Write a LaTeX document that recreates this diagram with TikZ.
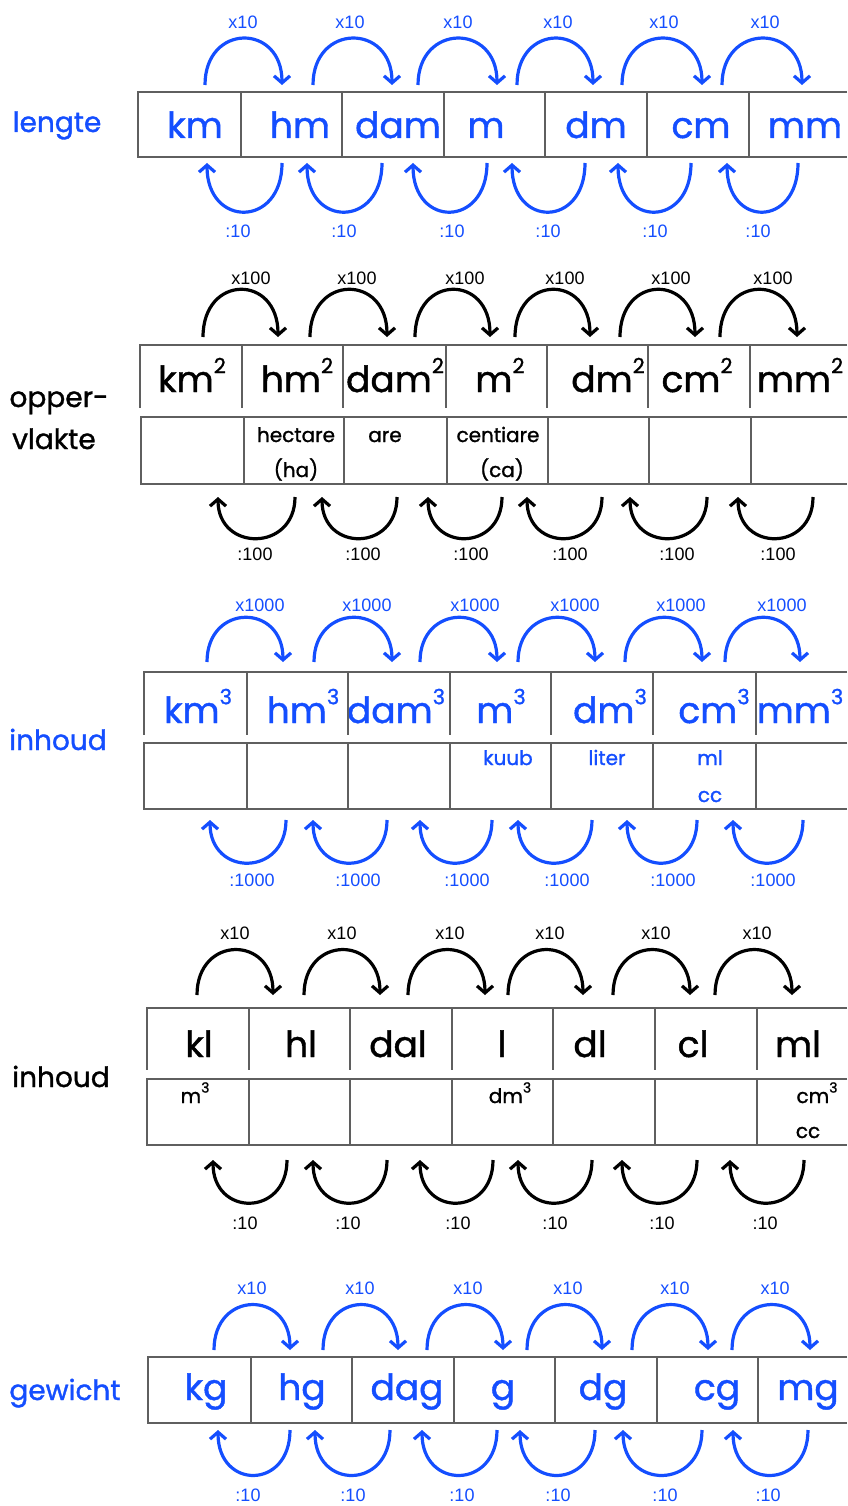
\documentclass[tikz,border=0pt]{standalone}
\usepackage{fontspec}
\setmainfont{Poppins}
\newfontfamily\thick[FakeBold=1.2]{Poppins}
\newfontfamily\labfont{Liberation Sans}
\usetikzlibrary{arrows.meta}
\definecolor{ublue}{RGB}{20,78,255}
\definecolor{gridc}{RGB}{95,95,95}
\newcommand\expo[1]{\raisebox{0.95ex}{\fontsize{21}{21}\selectfont #1}}
\tikzset{
  unit/.style={anchor=base, inner sep=0pt, font=\thick\fontsize{36}{40}\selectfont},
  side/.style={anchor=base, inner sep=0pt, font=\thick\fontsize{28}{30}\selectfont},
  sub/.style={anchor=base, inner sep=0pt, font=\thick\fontsize{20}{22}\selectfont},
  fac/.style={anchor=center, inner sep=0pt, font=\labfont\fontsize{18}{20}\selectfont},
  arc/.style={line width=3.2pt, -{Straight Barb[length=7pt,width=16pt]}},
  tbl/.style={draw=gridc, line width=1.3pt},
}
\begin{document}
\begin{tikzpicture}[x=1pt,y=-1pt]
\useasboundingbox (0,0) rectangle (847,1506);

% ---------------- Section 1: lengte ----------------
\begin{scope}[color=ublue]
  \node[side] (len) at (57,132) {lengte};
  \foreach \x/\t [count=\i] in {195/km,300/hm,398/dam,486/m,596/dm,701/cm,805/mm}
    \node[unit] (a\i) at (\x,138) {\t};
  \foreach \a/\b/\l [count=\i] in {205/282/243,313/392/350,418/497/458,517/593/558,622/702/664,722/802/765} {
    \coordinate (at\i s) at (\a,85); \coordinate (at\i e) at (\b,85);
    \draw[arc] (at\i s) .. controls +(0,-62) and +(0,-62) .. (at\i e);
    \node[fac] (at\i l) at (\l,22) {x10};
  }
  \foreach \b/\a/\l [count=\i] in {282/207/238,382/307/344,487/413/452,585/512/548,691/618/655,798/727/758} {
    \coordinate (ab\i s) at (\b,163); \coordinate (ab\i e) at (\a,163);
    \draw[arc] (ab\i s) .. controls +(0,65) and +(0,65) .. (ab\i e);
    \node[fac] (ab\i l) at (\l,231) {:10};
  }
\end{scope}
\draw[tbl] (847,92) -- (138,92) -- (138,157) -- (847,157);
\foreach \x in {241,342,444,545,647,749} \draw[tbl] (\x,92) -- (\x,157);

% ---------------- Section 2: oppervlakte ----------------
\node[side] (opp1) at (59,407) {opper-};
\node[side] (opp2) at (54,449) {vlakte};
\foreach \x/\t [count=\i] in {192/km,297/hm,395/dam,500/m,608/dm,697/cm,800/mm}
  \node[unit] (b\i) at (\x,392) {\t\expo{2}};
\node[sub] (bha) at (296,442) {hectare};
\node[sub] (bha2) at (296,477) {(ha)};
\node[sub] (bare) at (385,442) {are};
\node[sub] (bca) at (498,442) {centiare};
\node[sub] (bca2) at (502,477) {(ca)};
\foreach \a/\b/\l [count=\i] in {203/278/251,310/387/357,415/490/465,515/590/565,620/695/671,720/797/773} {
  \coordinate (bt\i s) at (\a,337); \coordinate (bt\i e) at (\b,337);
  \draw[arc] (bt\i s) .. controls +(0,-63) and +(0,-63) .. (bt\i e);
  \node[fac] (bt\i l) at (\l,278) {x100};
}
\foreach \b/\a/\l [count=\i] in {295/218/255,397/322/363,502/428/471,602/527/570,707/630/677,813/738/778} {
  \coordinate (bb\i s) at (\b,497); \coordinate (bb\i e) at (\a,497);
  \draw[arc] (bb\i s) .. controls +(0,55) and +(0,55) .. (bb\i e);
  \node[fac] (bb\i l) at (\l,554) {:100};
}
\draw[tbl] (847,345) -- (140,345) -- (140,408);
\foreach \x in {242,343,446,547,648,750} \draw[tbl] (\x,345) -- (\x,408);
\draw[tbl] (847,417) -- (141,417) -- (141,484) -- (847,484);
\foreach \x in {244,344,447,548,649,751} \draw[tbl] (\x,417) -- (\x,484);

% ---------------- Section 3: inhoud (m3) ----------------
\begin{scope}[color=ublue]
  \node[side] (inh1) at (58,750) {inhoud};
  \foreach \x/\t [count=\i] in {198/km,303/hm,396/dam,501/m,610/dm,714/cm,800/mm}
    \node[unit] (c\i) at (\x,723) {\t\expo{3}};
  \node[sub] (ckuub) at (508,765) {kuub};
  \node[sub] (cliter) at (607,765) {liter};
  \node[sub] (cml) at (710,765) {ml};
  \node[sub] (ccc) at (710,802) {cc};
  \foreach \a/\b/\l [count=\i] in {207/283/260,314/392/367,420/497/475,518/595/575,625/702/681,725/800/782} {
    \coordinate (ct\i s) at (\a,662); \coordinate (ct\i e) at (\b,662);
    \draw[arc] (ct\i s) .. controls +(0,-59) and +(0,-59) .. (ct\i e);
    \node[fac] (ct\i l) at (\l,605) {x1000};
  }
  \foreach \b/\a/\l [count=\i] in {286/210/252,387/313/358,492/420/467,592/518/567,697/627/673,803/733/773} {
    \coordinate (cb\i s) at (\b,820); \coordinate (cb\i e) at (\a,820);
    \draw[arc] (cb\i s) .. controls +(0,57) and +(0,57) .. (cb\i e);
    \node[fac] (cb\i l) at (\l,880) {:1000};
  }
\end{scope}
\draw[tbl] (847,672) -- (144,672) -- (144,735);
\foreach \x in {247,348,450,551,653,756} \draw[tbl] (\x,672) -- (\x,735);
\draw[tbl] (847,743) -- (144,743) -- (144,809) -- (847,809);
\foreach \x in {247,348,450,551,653,756} \draw[tbl] (\x,743) -- (\x,809);

% ---------------- Section 4: inhoud (liter) ----------------
\node[side] (inh2) at (61,1087) {inhoud};
\foreach \x/\t [count=\i] in {199/kl,301/hl,398/dal,502/l,590/dl,693/cl,798/ml}
  \node[unit] (d\i) at (\x,1057) {\t};
\node[sub] (dm3) at (195,1103) {m\expo{\fontsize{14}{14}\selectfont 3}};
\node[sub] (ddm3) at (510,1103) {dm\expo{\fontsize{14}{14}\selectfont 3}};
\node[sub] (dcm3) at (817,1103) {cm\expo{\fontsize{14}{14}\selectfont 3}};
\node[sub] (dcc) at (808,1138) {cc};
\foreach \a/\b/\l [count=\i] in {197/273/235,304/380/342,408/485/450,508/583/550,613/690/656,715/792/757} {
  \coordinate (dt\i s) at (\a,995); \coordinate (dt\i e) at (\b,995);
  \draw[arc] (dt\i s) .. controls +(0,-60) and +(0,-60) .. (dt\i e);
  \node[fac] (dt\i l) at (\l,933) {x10};
}
\foreach \b/\a/\l [count=\i] in {287/213/245,387/313/348,493/420/458,592/518/555,697/622/662,804/730/765} {
  \coordinate (db\i s) at (\b,1160); \coordinate (db\i e) at (\a,1160);
  \draw[arc] (db\i s) .. controls +(0,57) and +(0,57) .. (db\i e);
  \node[fac] (db\i l) at (\l,1223) {:10};
}
\draw[tbl] (847,1008) -- (147,1008) -- (147,1070);
\foreach \x in {249,350,452,553,655,757} \draw[tbl] (\x,1008) -- (\x,1070);
\draw[tbl] (847,1079) -- (147,1079) -- (147,1145) -- (847,1145);
\foreach \x in {249,350,452,553,655,757} \draw[tbl] (\x,1079) -- (\x,1145);

% ---------------- Section 5: gewicht ----------------
\begin{scope}[color=ublue]
  \node[side] (gew) at (65,1400) {gewicht};
  \foreach \x/\t [count=\i] in {206/kg,302/hg,407/dag,503/g,603/dg,717/cg,808/mg}
    \node[unit] (e\i) at (\x,1400) {\t};
  \foreach \a/\b/\l [count=\i] in {214/290/252,323/398/360,427/503/468,527/602/568,632/708/675,732/810/775} {
    \coordinate (et\i s) at (\a,1350); \coordinate (et\i e) at (\b,1350);
    \draw[arc] (et\i s) .. controls +(0,-60) and +(0,-60) .. (et\i e);
    \node[fac] (et\i l) at (\l,1288) {x10};
  }
  \foreach \b/\a/\l [count=\i] in {290/218/248,390/315/353,497/422/462,595/520/558,702/623/665,808/733/768} {
    \coordinate (eb\i s) at (\b,1430); \coordinate (eb\i e) at (\a,1430);
    \draw[arc] (eb\i s) .. controls +(0,60) and +(0,60) .. (eb\i e);
    \node[fac] (eb\i l) at (\l,1495) {:10};
  }
\end{scope}
\draw[tbl] (847,1357) -- (148,1357) -- (148,1423) -- (847,1423);
\foreach \x in {251,352,454,555,657,758} \draw[tbl] (\x,1357) -- (\x,1423);
\end{tikzpicture}
\end{document}
